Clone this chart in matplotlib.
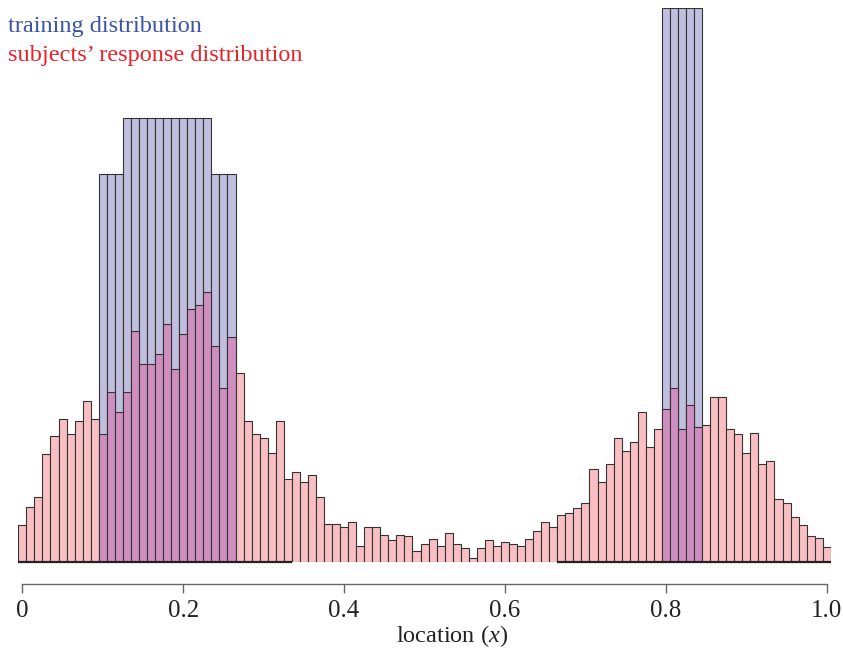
import matplotlib
matplotlib.use('Agg')
import matplotlib.pyplot as plt
import numpy as np

plt.rcParams['font.family'] = ['Liberation Serif', 'DejaVu Serif']
plt.rcParams['mathtext.fontset'] = 'custom'
plt.rcParams['mathtext.rm'] = 'Liberation Serif'
plt.rcParams['mathtext.it'] = 'Liberation Serif:italic'

# ---- data ----
bin_width = 0.01
response_locs = [i / 100 for i in range(101)]
response_heights = [
    0.067, 0.100, 0.117, 0.194, 0.227, 0.257, 0.231, 0.254, 0.290, 0.257,
    0.231, 0.307, 0.270, 0.307, 0.417, 0.357, 0.357, 0.376, 0.430, 0.348,
    0.411, 0.457, 0.463, 0.487, 0.390, 0.313, 0.406, 0.340, 0.254, 0.230,
    0.223, 0.197, 0.254, 0.150, 0.163, 0.144, 0.157, 0.117, 0.069, 0.069,
    0.063, 0.073, 0.029, 0.063, 0.063, 0.049, 0.039, 0.049, 0.046, 0.019,
    0.032, 0.042, 0.029, 0.053, 0.032, 0.026, 0.008, 0.026, 0.039, 0.029,
    0.036, 0.032, 0.029, 0.042, 0.056, 0.073, 0.063, 0.084, 0.088, 0.097,
    0.107, 0.167, 0.144, 0.177, 0.224, 0.201, 0.217, 0.270, 0.207, 0.240,
    0.276, 0.313, 0.240, 0.283, 0.243, 0.247, 0.297, 0.297, 0.240, 0.230,
    0.197, 0.233, 0.176, 0.183, 0.114, 0.107, 0.081, 0.067, 0.047, 0.043,
    0.027,
]
training_locs = [0.10, 0.11, 0.12, 0.13, 0.14, 0.15, 0.16, 0.17, 0.18, 0.19,
                 0.20, 0.21, 0.22, 0.23, 0.24, 0.25, 0.26,
                 0.80, 0.81, 0.82, 0.83, 0.84]
training_heights = [0.7, 0.7, 0.7, 0.8, 0.8, 0.8, 0.8, 0.8, 0.8, 0.8,
                    0.8, 0.8, 0.8, 0.8, 0.7, 0.7, 0.7,
                    1.0, 1.0, 1.0, 1.0, 1.0]
tick_values = [0, 0.2, 0.4, 0.6, 0.8, 1.0]
tick_labels = ['0', '0.2', '0.4', '0.6', '0.8', '1.0']

# ---- styling ----
lavender = '#c1bfdf'
pink = '#f9bfc2'
purple = '#cf8ec0'
edge = '#333333'

W, H = 843, 649
fig = plt.figure(figsize=(W / 100, H / 100), dpi=100)
left_px, right_px, base_px, top_px = 18.3, 830.8, 562.0, 7.5
ax = fig.add_axes([left_px / W, (H - base_px) / H,
                   (right_px - left_px) / W, (base_px - top_px) / H])
ax.set_xlim(-0.005, 1.005)
ax.set_ylim(0, 1)

ax.bar(training_locs, training_heights, width=bin_width, color=lavender,
       edgecolor=edge, linewidth=0.8, zorder=2)

train_set = set(round(v, 2) for v in training_locs)
colors = [purple if round(x, 2) in train_set else pink for x in response_locs]
ax.bar(response_locs, response_heights, width=bin_width, color=colors,
       edgecolor=edge, linewidth=0.8, zorder=3)

# dark baseline segments
ax.plot([-0.005, 0.335], [0, 0], color='#222222', lw=1.6, zorder=4,
        solid_capstyle='butt', clip_on=False)
ax.plot([0.665, 1.005], [0, 0], color='#222222', lw=1.6, zorder=4,
        solid_capstyle='butt', clip_on=False)

for s in ['left', 'top', 'right']:
    ax.spines[s].set_visible(False)
ax.spines['bottom'].set_position(('outward', 22 * 0.72))
ax.spines['bottom'].set_bounds(0, 1)
ax.spines['bottom'].set_color('#666666')
ax.spines['bottom'].set_linewidth(1.0)
ax.set_yticks([])
ax.set_xticks(tick_values)
ax.set_xticklabels(tick_labels)
ax.tick_params(axis='x', direction='out', length=6.5, width=1.0,
               color='#666666', labelsize=18, labelcolor='#222222', pad=5)
ax.set_xlabel('location ($\\it{x}$)', fontsize=17.5, color='#222222',
              labelpad=1)
ax.xaxis.label.set_x(0.534)

fig.text(8 / W, 1 - 32 / H, 'training distribution', color='#3c54a6',
         fontsize=17.5, va='baseline', ha='left')
fig.text(8 / W, 1 - 61 / H, 'subjects\u2019 response distribution',
         color='#e8242b', fontsize=17.5, va='baseline', ha='left')

fig.savefig('out.png', dpi=100)
